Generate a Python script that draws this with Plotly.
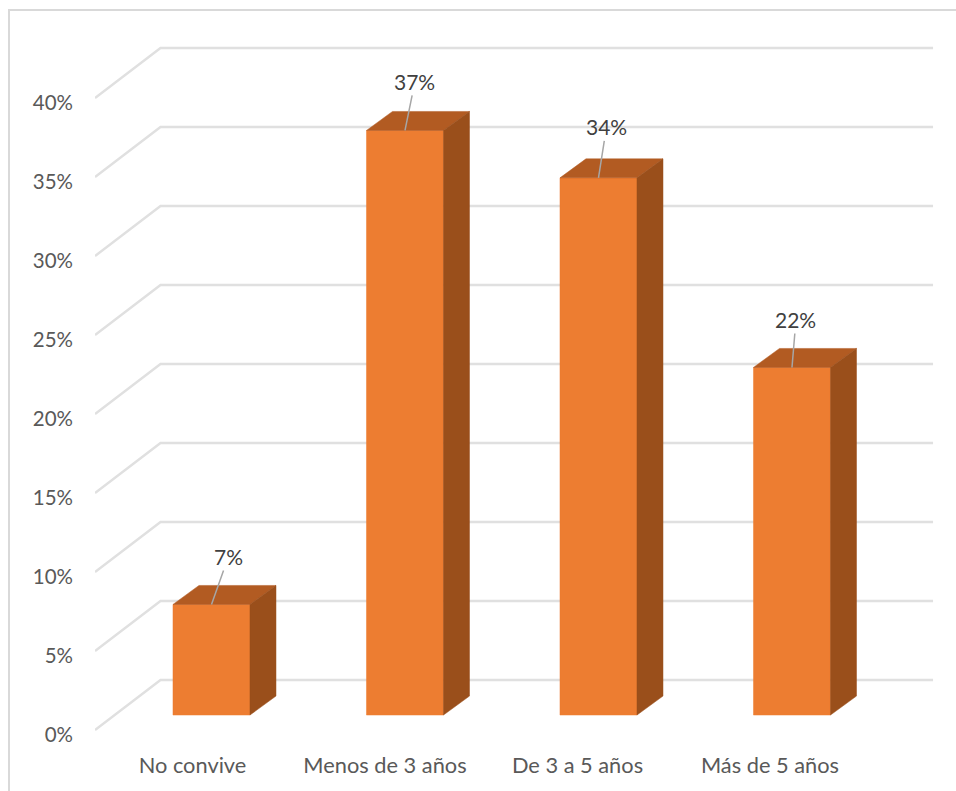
import plotly.graph_objects as go

categories = ["No convive", "Menos de 3 años", "De 3 a 5 años", "Más de 5 años"]
values = [7, 37, 34, 22]
tick_values = [0, 5, 10, 15, 20, 25, 30, 35, 40]
label_shift_x_px = [17, 10, 8, 4]
label_shift_y_px = [-48, -49, -51, -48]

W, H = 956, 791
ML, MR, MT, MB = 95, 16, 40, 56
PX_PER_CAT = 193.5
PX_PER_PCT = 15.8
X0 = -0.602
X1 = X0 + (W - ML - MR) / PX_PER_CAT
Y1 = (H - MB - MT) / PX_PER_PCT

# oblique projection offsets, in axis units
FLOOR_Y = 0.19 + 2 / PX_PER_PCT
WALL_DX, WALL_DY = 65.5 / PX_PER_CAT, 50 / PX_PER_PCT
WALL_END = 3.729
BAR_Y = 1.2 + 1 / PX_PER_PCT
BAR_HALF = 38.5 / PX_PER_CAT
DEPTH_DX, DEPTH_DY = 26 / PX_PER_CAT, 19 / PX_PER_PCT
CAT_LABEL_SHIFT = 19 / PX_PER_CAT
CAT_LABEL_STEP = 192.5 / PX_PER_CAT

GRID = "#E0E0E0"
FRONT, TOP, SIDE = "#ED7D31", "#B25B22", "#9A4F1B"
TEXT_AXIS, TEXT_LABEL = "#595959", "#404040"

fig = go.Figure()

for t in tick_values:
    fig.add_trace(go.Scatter(
        x=[X0, X0 + WALL_DX, WALL_END],
        y=[t + FLOOR_Y, t + FLOOR_Y + WALL_DY, t + FLOOR_Y + WALL_DY],
        mode="lines", line=dict(color=GRID, width=2.5),
        hoverinfo="skip", showlegend=False, cliponaxis=False))


def face(xs, ys, color):
    fig.add_trace(go.Scatter(
        x=xs, y=ys, mode="lines", fill="toself", fillcolor=color,
        line=dict(color=color, width=0.5), hoverinfo="skip",
        showlegend=False, cliponaxis=False))


for i, v in enumerate(values):
    l, r = i - BAR_HALF, i + BAR_HALF
    b, t = BAR_Y, v + BAR_Y
    face([l, r, r, l, l], [b, b, t, t, b], FRONT)
    face([l, r, r + DEPTH_DX, l + DEPTH_DX, l],
         [t, t, t + DEPTH_DY, t + DEPTH_DY, t], TOP)
    face([r, r + DEPTH_DX, r + DEPTH_DX, r, r],
         [b, b + DEPTH_DY, t + DEPTH_DY, t, b], SIDE)
    fig.add_annotation(
        x=i, y=t, text=f"{v}%", showarrow=True, arrowhead=0, arrowwidth=1.5,
        arrowcolor="#A6A6A6", ax=label_shift_x_px[i], ay=label_shift_y_px[i],
        axref="pixel", ayref="pixel", standoff=0,
        font=dict(size=21, color=TEXT_LABEL, family="Lato"))


def px(x):
    return (x - ML) / (W - ML - MR)


def py(y):
    return 1 - (y - MT) / (H - MT - MB)


fig.add_shape(type="path", xref="paper", yref="paper", layer="below",
              path=f"M {px(9)} {py(791)} L {px(9)} {py(10)} L {px(956)} {py(10)}",
              line=dict(color="#D9D9D9", width=2))

fig.update_layout(
    width=W, height=H, autosize=False,
    margin=dict(l=ML, r=MR, t=MT, b=MB, pad=0),
    paper_bgcolor="white", plot_bgcolor="white",
    font=dict(family="Lato", size=20, color=TEXT_AXIS),
    showlegend=False,
    xaxis=dict(range=[X0, X1], showgrid=False, zeroline=False, showline=False,
               tickmode="array",
               tickvals=[i * CAT_LABEL_STEP - CAT_LABEL_SHIFT for i in range(len(categories))],
               ticktext=categories, ticks="", ticklabelstandoff=15,
               tickfont=dict(size=21.8)),
    yaxis=dict(range=[0, Y1], showgrid=False, zeroline=False, showline=False,
               tickmode="array", tickvals=tick_values,
               ticktext=[f"{t}%" for t in tick_values], ticks="", ticklabelstandoff=21,
               tickfont=dict(size=20.5)),
)

fig.write_html("out.html", config=dict(displayModeBar=False),
               post_script="document.body.style.margin='0';")
